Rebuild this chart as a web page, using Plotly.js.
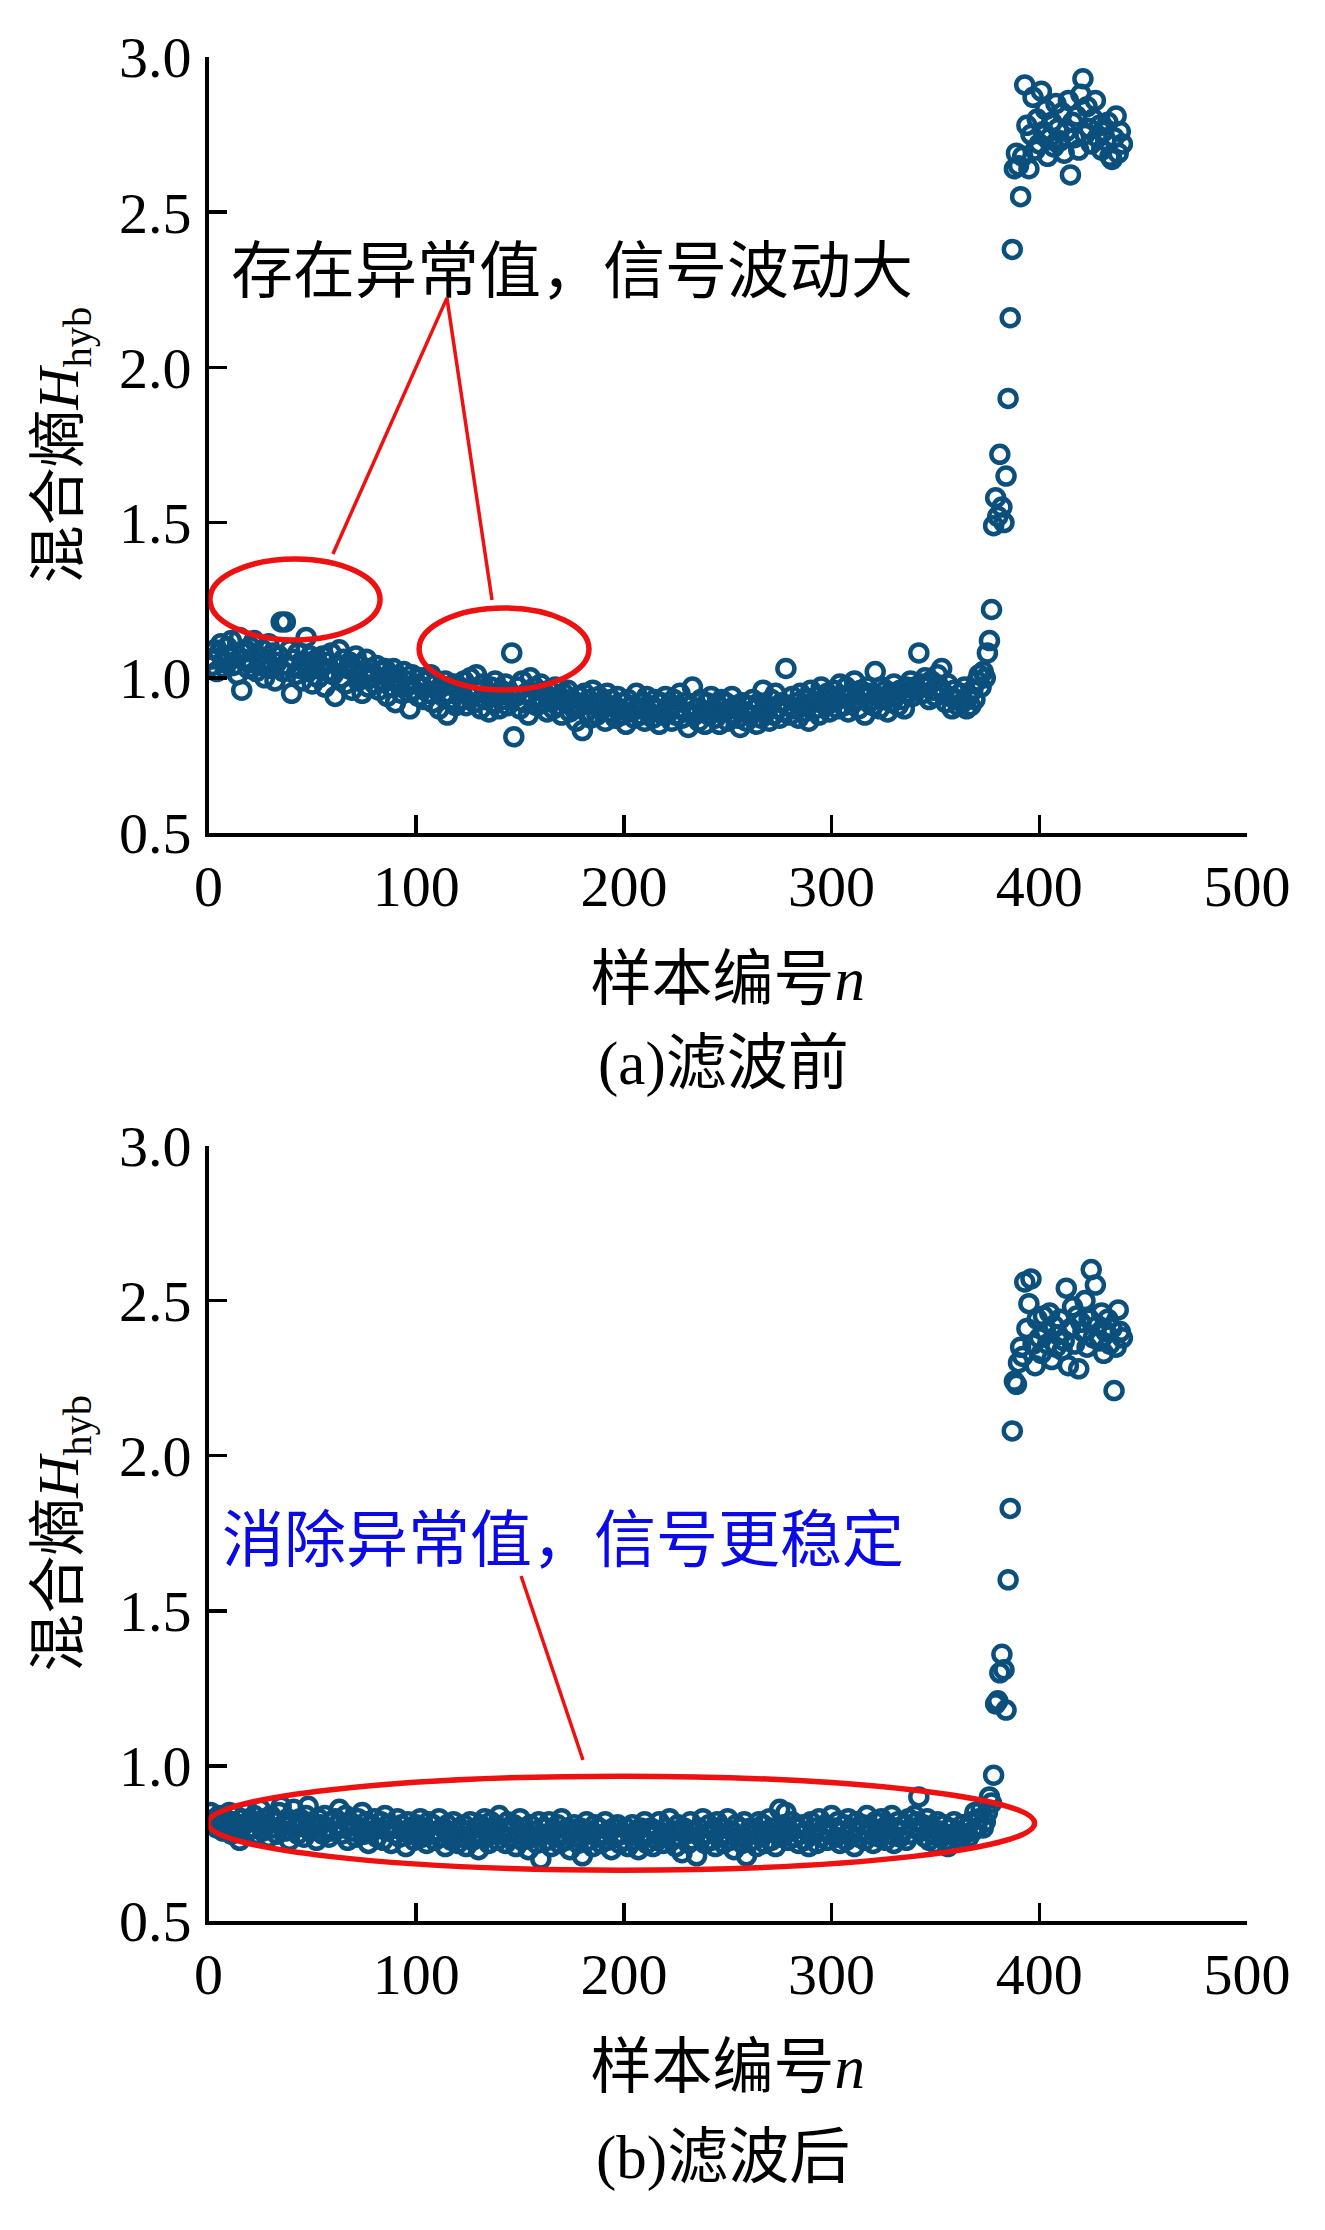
<!DOCTYPE html>
<html>
<head>
<meta charset="utf-8">
<script src="https://cdn.plot.ly/plotly-3.0.1.min.js"></script>
<style>html,body{margin:0;padding:0;background:#fff;}#chart{width:1325px;height:2230px;}</style>
</head>
<body>
<div id="chart"></div>
<script>
// ---- data ----
const beforeValues = [
1.06,1.04,1.09,1.02,1.08,1.11,1.05,1.03,1.10,1.07,1.12,1.04,1.08,1.01,1.13,0.96,1.06,1.09,1.03,1.10,
1.05,1.12,1.02,1.07,1.04,1.09,1.00,1.06,1.11,1.03,1.08,0.99,1.05,1.07,1.18,1.02,1.18,1.04,1.09,0.95,
1.06,1.01,1.08,1.03,0.99,1.05,1.13,1.02,1.07,0.98,1.04,1.06,1.00,1.03,1.07,0.97,1.05,1.02,1.08,1.01,
0.94,1.04,1.09,1.00,1.06,0.98,1.03,1.05,0.96,1.02,1.07,0.99,1.04,0.95,1.01,1.06,0.97,1.03,1.00,0.98,
1.04,0.96,1.02,0.99,1.03,0.94,1.01,0.97,1.03,0.92,1.00,0.98,0.95,1.02,0.97,0.99,0.90,1.01,0.96,0.98,
0.94,1.00,0.97,0.93,0.99,0.95,1.01,0.92,0.98,0.96,0.90,0.97,0.94,0.99,0.88,0.95,0.93,0.98,0.91,0.96,
0.97,0.93,0.99,0.91,0.95,1.00,0.94,0.92,1.01,0.96,0.90,0.98,0.93,0.95,0.89,0.97,0.92,0.99,0.94,0.90,
0.96,0.93,0.98,0.91,0.95,1.08,0.81,0.94,0.97,0.90,0.99,0.92,0.95,0.88,1.00,0.93,0.97,0.91,0.94,0.98,
0.92,0.95,0.89,0.96,0.93,0.90,0.97,0.91,0.94,0.88,0.95,0.92,0.96,0.89,0.93,0.90,0.86,0.94,0.91,0.83,
0.95,0.89,0.93,0.87,0.96,0.91,0.88,0.94,0.90,0.92,0.86,0.95,0.89,0.93,0.91,0.87,0.94,0.90,0.88,0.92,
0.85,0.93,0.89,0.91,0.87,0.95,0.90,0.88,0.92,0.86,0.94,0.89,0.91,0.87,0.93,0.90,0.85,0.92,0.88,0.94,
0.89,0.91,0.86,0.93,0.88,0.90,0.95,0.87,0.92,0.89,0.84,0.91,0.97,0.88,0.90,0.86,0.93,0.89,0.85,0.92,
0.88,0.94,0.90,0.87,0.91,0.85,0.93,0.89,0.92,0.86,0.90,0.94,0.88,0.91,0.87,0.84,0.92,0.89,0.86,0.91,
0.88,0.93,0.90,0.85,0.92,0.87,0.96,0.89,0.91,0.86,0.93,0.88,0.95,0.90,0.87,0.92,0.89,1.03,0.91,0.88,
0.94,0.90,0.92,0.87,0.95,0.91,0.89,0.93,0.86,0.96,0.92,0.90,0.94,0.88,0.97,0.93,0.91,0.95,0.89,0.92,
0.96,0.93,0.90,0.98,0.94,0.91,0.97,0.89,0.95,0.92,0.99,0.93,0.90,0.96,0.94,0.88,0.97,0.92,0.95,0.91,
1.02,0.94,0.90,0.97,0.93,0.96,0.89,0.95,0.92,0.98,0.94,0.91,0.96,0.93,0.90,0.97,0.95,0.99,0.94,0.97,
0.96,1.08,0.98,0.95,1.00,0.97,0.93,0.99,0.96,0.94,1.01,0.97,1.03,0.95,0.92,0.98,0.94,0.90,0.96,0.93,
0.91,0.95,0.92,0.97,0.90,0.94,0.91,0.96,0.93,0.99,
1.01,0.97,1.02,1.00,1.08,1.12,1.22,1.49,1.58,1.52,
1.72,1.55,1.50,1.65,1.90,2.16,2.38,2.64,2.69,2.65,
2.55,2.68,2.91,2.78,2.64,2.75,2.87,2.70,2.80,2.72,
2.89,2.76,2.83,2.68,2.74,2.79,2.71,2.85,2.77,2.73,
2.82,2.69,2.76,2.86,2.62,2.79,2.74,2.81,2.70,2.88,
2.93,2.75,2.84,2.77,2.72,2.80,2.86,2.74,2.78,2.70,
2.76,2.73,2.79,2.68,2.67,2.74,2.81,2.69,2.76,2.72
];
const afterValues = [
0.85,0.81,0.83,0.80,0.84,0.82,0.79,0.83,0.81,0.85,0.78,0.82,0.84,0.80,0.76,0.83,0.81,0.85,0.79,0.82,
0.80,0.84,0.78,0.82,0.86,0.79,0.83,0.81,0.77,0.84,0.80,0.82,0.78,0.85,0.87,0.81,0.79,0.83,0.76,0.82,
0.86,0.80,0.78,0.83,0.81,0.77,0.84,0.87,0.79,0.82,0.80,0.76,0.83,0.81,0.78,0.84,0.80,0.77,0.82,0.79,
0.83,0.81,0.86,0.78,0.80,0.84,0.76,0.82,0.79,0.81,0.77,0.83,0.80,0.85,0.78,0.82,0.75,0.81,0.79,0.83,
0.77,0.80,0.82,0.76,0.84,0.79,0.81,0.75,0.80,0.78,0.83,0.77,0.81,0.79,0.74,0.82,0.78,0.80,0.76,0.81,
0.79,0.83,0.77,0.80,0.75,0.82,0.78,0.81,0.76,0.79,0.83,0.77,0.80,0.74,0.81,0.78,0.76,0.82,0.79,0.75,
0.80,0.77,0.81,0.74,0.79,0.82,0.76,0.78,0.80,0.73,0.81,0.77,0.83,0.79,0.75,0.82,0.78,0.80,0.76,0.84,
0.78,0.80,0.75,0.82,0.77,0.79,0.81,0.74,0.78,0.83,0.76,0.80,0.78,0.73,0.81,0.77,0.79,0.75,0.82,0.70,
0.78,0.80,0.76,0.82,0.74,0.79,0.77,0.81,0.75,0.83,0.78,0.76,0.80,0.73,0.79,0.81,0.77,0.75,0.80,0.71,
0.78,0.82,0.76,0.79,0.74,0.81,0.77,0.80,0.75,0.78,0.82,0.76,0.79,0.73,0.80,0.77,0.81,0.75,0.78,0.76,
0.80,0.74,0.78,0.81,0.76,0.79,0.73,0.80,0.77,0.82,0.75,0.78,0.80,0.74,0.79,0.76,0.82,0.77,0.75,0.80,
0.78,0.83,0.76,0.79,0.74,0.81,0.77,0.72,0.80,0.78,0.75,0.82,0.76,0.79,0.71,0.80,0.77,0.83,0.75,0.78,
0.81,0.76,0.79,0.74,0.82,0.77,0.80,0.75,0.78,0.83,0.76,0.79,0.73,0.81,0.77,0.80,0.75,0.82,0.71,0.78,
0.80,0.76,0.79,0.74,0.82,0.77,0.81,0.75,0.79,0.83,0.76,0.80,0.74,0.78,0.86,0.77,0.81,0.85,0.76,0.79,
0.82,0.77,0.80,0.75,0.78,0.81,0.76,0.79,0.74,0.82,0.78,0.80,0.75,0.83,0.77,0.79,0.81,0.76,0.78,0.84,
0.80,0.77,0.82,0.75,0.79,0.81,0.76,0.83,0.78,0.80,0.74,0.82,0.77,0.79,0.81,0.76,0.84,0.78,0.80,0.75,
0.82,0.79,0.77,0.83,0.80,0.76,0.81,0.78,0.84,0.75,0.80,0.82,0.77,0.79,0.81,0.76,0.83,0.78,0.80,0.84,
0.82,0.90,0.79,0.81,0.77,0.83,0.76,0.80,0.78,0.75,0.82,0.79,0.77,0.81,0.76,0.74,0.80,0.78,0.82,0.77,
0.79,0.76,0.81,0.78,0.80,0.77,0.82,0.79,0.85,0.80,
0.83,0.86,0.80,0.82,0.85,0.90,0.88,0.97,1.20,1.21,
1.30,1.36,1.31,1.18,1.60,1.83,2.08,2.24,2.23,2.30,
2.35,2.32,2.56,2.41,2.49,2.57,2.36,2.29,2.44,2.38,
2.33,2.45,2.40,2.36,2.46,2.31,2.42,2.35,2.39,2.44,
2.34,2.37,2.54,2.29,2.41,2.48,2.36,2.45,2.28,2.43,
2.40,2.50,2.35,2.44,2.60,2.38,2.55,2.42,2.37,2.46,
2.33,2.40,2.44,2.36,2.41,2.21,2.35,2.47,2.40,2.38
];
const sampleBefore = beforeValues.map((_, i) => i + 1);
const sampleAfter = afterValues.map((_, i) => i + 1);
const xTickVals = [0, 100, 200, 300, 400, 500];
const yTickVals = [0.5, 1.0, 1.5, 2.0, 2.5, 3.0];
const xTitle = '样本编号<i>n</i>';
const yTitle = '混合熵<i>H</i><sub>hyb</sub>';
const captionA = '(a)滤波前';
const captionB = '(b)滤波后';
const noteA = '存在异常值，信号波动大';
const noteB = '消除异常值，信号更稳定';

// ---- styling ----
const W = 1325, H = 2230;
const markerColor = '#0b4f7d';
const serif = 'Liberation Serif, Times New Roman, Noto Sans CJK SC, serif';
const cjk = 'Liberation Serif, Noto Sans CJK SC, serif';

function trace(x, y, xa, ya) {
  return {
    x: x, y: y, xaxis: xa, yaxis: ya, type: 'scatter', mode: 'markers',
    marker: {symbol: 'circle-open', size: 17, color: markerColor, line: {width: 4.5, color: markerColor}},
    showlegend: false, hoverinfo: 'x+y'
  };
}

function xAxis(anchor) {
  return {
    domain: [208.5 / W, 1247 / W], anchor: anchor, range: [0, 500],
    tickvals: xTickVals, ticks: 'inside', ticklen: 18, tickwidth: 3.5, tickcolor: '#000',
    showline: true, linewidth: 3.5, linecolor: '#000', mirror: false, showgrid: false, zeroline: false,
    tickfont: {family: serif, size: 58, color: '#000'}, ticklabelstandoff: 0,
    title: {text: xTitle, font: {family: cjk, size: 61, color: '#000'}, standoff: 40},
    automargin: false, fixedrange: true
  };
}
function yAxis(domain, anchor) {
  return {
    domain: domain, anchor: anchor, range: [0.5, 3.0],
    tickvals: yTickVals, tickformat: '.1f', ticks: 'inside', ticklen: 18, tickwidth: 3.5, tickcolor: '#000',
    showline: true, linewidth: 3.5, linecolor: '#000', mirror: false, showgrid: false, zeroline: false,
    tickfont: {family: serif, size: 58, color: '#000'}, ticklabelstandoff: 2,
    title: {text: yTitle, font: {family: cjk, size: 58, color: '#000'}, standoff: 22},
    automargin: false, fixedrange: true
  };
}

const domTop = [1 - 833 / H, 1 - 57 / H];
const domBot = [1 - 1921 / H, 1 - 1145.5 / H];

const red = '#ee1111';
const shapes = [
  {type: 'circle', xref: 'x', yref: 'y', x0: 0.7, x1: 82.6, y0: 1.122, y1: 1.383, line: {color: red, width: 5.5}},
  {type: 'circle', xref: 'x', yref: 'y', x0: 101.4, x1: 183.2, y0: 0.961, y1: 1.225, line: {color: red, width: 5.5}},
  {type: 'line', xref: 'x', yref: 'y', x0: 114.8, y0: 2.224, x1: 59.9, y1: 1.399, line: {color: red, width: 3.5}},
  {type: 'line', xref: 'x', yref: 'y', x0: 114.8, y0: 2.224, x1: 136.5, y1: 1.251, line: {color: red, width: 3.5}},
  {type: 'circle', xref: 'x2', yref: 'y2', x0: -0.2, x1: 397.7, y0: 0.664, y1: 0.967, line: {color: red, width: 5.5}},
  {type: 'line', xref: 'x2', yref: 'y2', x0: 150.5, y0: 1.612, x1: 180.3, y1: 1.019, line: {color: red, width: 3.5}}
];

const annotations = [
  {text: noteA, xref: 'paper', yref: 'paper', x: 572 / W, y: 1 - 266 / H, xanchor: 'center', yanchor: 'middle',
   showarrow: false, font: {family: 'Noto Sans CJK SC', size: 62, color: '#000'}},
  {text: noteB, xref: 'paper', yref: 'paper', x: 563 / W, y: 1 - 1535 / H, xanchor: 'center', yanchor: 'middle',
   showarrow: false, font: {family: 'Noto Sans CJK SC', size: 62, color: '#0a0ae6'}},
  {text: captionA, xref: 'paper', yref: 'paper', x: 723 / W, y: 1 - 1064 / H, xanchor: 'center', yanchor: 'middle',
   showarrow: false, font: {family: cjk, size: 61, color: '#000'}},
  {text: captionB, xref: 'paper', yref: 'paper', x: 723 / W, y: 1 - 2158 / H, xanchor: 'center', yanchor: 'middle',
   showarrow: false, font: {family: cjk, size: 61, color: '#000'}}
];

const layout = {
  width: W, height: H, margin: {l: 0, r: 0, t: 0, b: 0},
  paper_bgcolor: '#fff', plot_bgcolor: '#fff', showlegend: false,
  xaxis: xAxis('y'), yaxis: yAxis(domTop, 'x'),
  xaxis2: xAxis('y2'), yaxis2: yAxis(domBot, 'x2'),
  shapes: shapes, annotations: annotations
};

Plotly.newPlot('chart', [
  trace(sampleBefore, beforeValues, 'x', 'y'),
  trace(sampleAfter, afterValues, 'x2', 'y2')
], layout, {displayModeBar: false, staticPlot: true});
</script>
</body>
</html>
